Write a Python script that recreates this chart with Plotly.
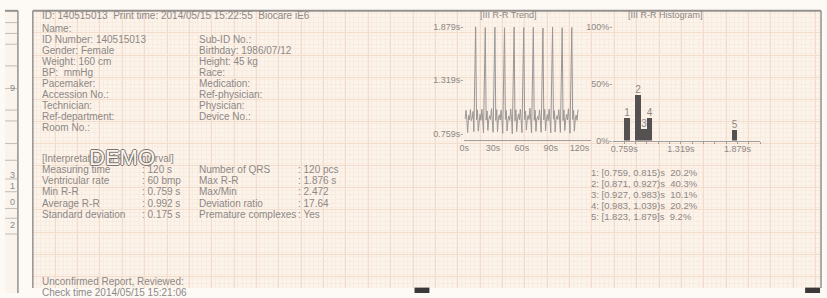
import numpy as np
import plotly.graph_objects as go

W, H = 827, 298

# ---------------- data ----------------
rr_intervals = [
    0.912, 1.004, 0.898, 0.772, 0.951, 0.903, 1.012, 0.896, 0.921, 0.992, 0.781, 1.876,
    0.905, 1.008, 0.786, 0.912, 0.962, 0.899, 1.015, 0.893, 0.768, 1.869,
    0.901, 0.997, 0.793, 0.908, 0.948, 0.906, 1.021, 0.889, 0.774, 1.872,
    0.897, 1.011, 0.779, 0.915, 0.957, 0.902, 1.006, 0.894, 0.762, 1.866,
    0.909, 1.002, 0.788, 0.903, 0.944, 0.898, 1.018, 0.907, 0.759, 1.874,
    0.894, 1.009, 0.781, 0.911, 0.966, 0.904, 1.013, 0.892, 0.771, 1.868,
    0.906, 0.995, 0.796, 0.899, 0.952, 0.908, 1.024, 0.888, 0.766, 1.871,
    0.899, 1.006, 0.784, 0.914, 0.941, 0.901, 1.009, 0.897, 0.775, 1.863,
    0.903, 1.013, 0.789, 0.906, 0.959, 0.895, 1.016, 0.891, 0.769, 1.875,
    0.911, 0.999, 0.777, 0.909, 0.947, 0.907, 1.011, 0.902, 0.773, 1.867,
    0.896, 1.007, 0.792, 0.901, 0.963, 0.903, 1.019, 0.895, 0.764, 1.870,
    0.908, 1.003, 0.785, 0.913, 0.954, 0.899, 1.010,
]
trend_tickvals = [0, 30, 60, 90, 120]
trend_ticktext = ["0s", "30s", "60s", "90s", "120s"]
rr_tickvals = [0.759, 1.319, 1.879]
rr_ticktext = ["0.759s-", "1.319s-", "1.879s-"]

hist_bin_lo = [0.759, 0.871, 0.927, 0.983, 1.823]
hist_bin_hi = [0.815, 0.927, 0.983, 1.039, 1.879]
hist_pct = [20.2, 40.3, 10.1, 20.2, 9.2]
hist_labels = ["1", "2", "3", "4", "5"]
hist_close = [")", ")", ")", ")", "]"]
pct_tickvals = [0, 50, 100]
pct_ticktext = ["0%-", "50%-", "100%-"]

header_text = "ID: 140515013  Print time: 2014/05/15 15:22:55  Biocare iE6"
info_col1 = ["Name:", "ID Number: 140515013", "Gender: Female", "Weight: 160 cm",
             "BP:  mmHg", "Pacemaker:", "Accession No.:", "Technician:",
             "Ref-department:", "Room No.:"]
info_col2 = ["", "Sub-ID No.:", "Birthday: 1986/07/12", "Height: 45 kg", "Race:",
             "Medication:", "Ref-physician:", "Physician:", "Device No.:"]
interp_title = "[Interpretation of R-R Interval]"
interp_lab1 = ["Measuring time", "Ventricular rate", "Min R-R", "Average R-R", "Standard deviation"]
interp_val1 = [": 120 s", ": 60 bmp", ": 0.759 s", ": 0.992 s", ": 0.175 s"]
interp_lab2 = ["Number of QRS", "Max R-R", "Max/Min", "Deviation ratio", "Premature complexes"]
interp_val2 = [": 120 pcs", ": 1.876 s", ": 2.472", ": 17.64", ": Yes"]
footer_lines = ["Unconfirmed Report, Reviewed:", "Check time 2014/05/15 15:21:06"]
left_page_digits = [("9", 90), ("3", 178), ("1", 189), ("0", 205), ("2", 229)]

# ---------------- helpers ----------------
def px(x):
    return x / W

def py(y):
    return 1 - y / H

TXT = "#8c8885"
FONT = "Liberation Sans, Arial, sans-serif"
PAPER = "#fcf3ea"

annotations = []

def add_text(x, y, text, size=10, anchor="left", color=TXT):
    annotations.append(dict(x=px(x), y=py(y), xref="paper", yref="paper", text=text,
                            showarrow=False, xanchor=anchor, yanchor="middle",
                            font=dict(family=FONT, size=size, color=color)))

# ---------------- traces ----------------
times = np.cumsum(rr_intervals)
fig = go.Figure()

fig.add_trace(go.Scatter(x=[], y=[], xaxis="x", yaxis="y", showlegend=False, hoverinfo="skip"))

fig.add_trace(go.Scatter(x=times, y=rr_intervals, xaxis="x2", yaxis="y2", mode="lines",
                         line=dict(color="#9a9695", width=1), showlegend=False))

centers = [(lo + hi) / 2 for lo, hi in zip(hist_bin_lo, hist_bin_hi)]
widths = [hi - lo for lo, hi in zip(hist_bin_lo, hist_bin_hi)]
fig.add_trace(go.Bar(x=centers, y=hist_pct, width=widths, xaxis="x3", yaxis="y3",
                     marker=dict(color="#545150", line=dict(width=0)),
                     text=hist_labels, textposition="outside", constraintext="none",
                     cliponaxis=False, textfont=dict(family=FONT, size=10, color=TXT),
                     showlegend=False))

# ---------------- text ----------------
add_text(35, 16, header_text)
for i, t in enumerate(info_col1):
    add_text(35, 29 + i * 11.2, t)
for i, t in enumerate(info_col2):
    if t:
        add_text(193, 29 + i * 11.2, t)
add_text(35, 161, interp_title)
for i in range(5):
    yy = 172 + i * 11.5
    add_text(35, yy, interp_lab1[i])
    add_text(136, yy, interp_val1[i])
    add_text(193, yy, interp_lab2[i])
    add_text(293, yy, interp_val2[i])
add_text(35, 286, footer_lines[0])
add_text(35, 297.5, footer_lines[1])

# DEMO watermark (outlined)
annotations.append(dict(x=px(118), y=py(160), xref="paper", yref="paper", text="DEMO",
                        showarrow=False, xanchor="center", yanchor="middle",
                        font=dict(family=FONT, size=22, color=PAPER,
                                  shadow="1px 0 0 #777472, -1px 0 0 #777472, 0 1px 0 #777472, 0 -1px 0 #777472")))

add_text(507, 15, "[III R-R Trend]", size=9, anchor="center")
add_text(665, 15, "[III R-R Histogram]", size=9, anchor="center")

for i in range(5):
    line = f"{hist_labels[i]}: [{hist_bin_lo[i]:.3f}, {hist_bin_hi[i]:.3f}{hist_close[i]}s  {hist_pct[i]}%"
    add_text(588, 175 + i * 11.2, line, size=9.5)

for d, yy in left_page_digits:
    add_text(12, yy, d, size=9, anchor="right")

# ---------------- shapes ----------------
shapes = []
shapes.append(dict(type="rect", xref="paper", yref="paper", x0=px(28), x1=px(821), y0=py(293), y1=py(11),
                   fillcolor=PAPER, line=dict(width=0), layer="below"))
shapes.append(dict(type="rect", xref="paper", yref="paper", x0=px(0), x1=px(13), y0=py(298), y1=py(11),
                   fillcolor="#fbf4ec", line=dict(width=0), layer="below"))
BORDER = "#95918e"
def hline(x0, x1, y, w=1, c=BORDER):
    shapes.append(dict(type="line", xref="paper", yref="paper", x0=px(x0), x1=px(x1), y0=py(y), y1=py(y),
                       line=dict(color=c, width=w)))
def vline(x, y0, y1, w=1, c=BORDER):
    shapes.append(dict(type="line", xref="paper", yref="paper", x0=px(x), x1=px(x), y0=py(y0), y1=py(y1),
                       line=dict(color=c, width=w)))
hline(28, 821, 11, 2)
vline(28, 11, 293, 1.5)
vline(821, 11, 293, 1.5)
vline(13, 11, 298, 1.5)
hline(0, 13, 11, 2)
for yy in [23, 34, 45, 67, 90, 112, 123, 146, 163, 182, 195, 212, 222, 238]:
    hline(0, 13, yy, 0.8, "#b2aeab")
for x0 in [412, 805]:
    shapes.append(dict(type="rect", xref="paper", yref="paper", x0=px(x0), x1=px(x0 + 15),
                       y0=py(298), y1=py(292.5), fillcolor="#3a3838", line=dict(width=0)))

# ---------------- layout ----------------
def dom_x(a, b):
    return [a / W, b / W]

def dom_y(top, bottom):
    return [1 - bottom / H, 1 - top / H]

MAJ = "#f3dccb"
MIN = "#f8ebe0"
fig.update_layout(
    width=W, height=H, margin=dict(l=0, r=0, t=0, b=0),
    paper_bgcolor="#fdfaf6", plot_bgcolor="rgba(0,0,0,0)",
    font=dict(family=FONT, color=TXT),
    showlegend=False, bargap=0,
    annotations=annotations, shapes=shapes,
    xaxis=dict(domain=dom_x(28, 821), range=[28, 821], dtick=22.5, tick0=28,
               showgrid=True, gridcolor=MAJ, gridwidth=1,
               minor=dict(dtick=4.5, showgrid=True, gridcolor=MIN, gridwidth=1),
               showticklabels=False, zeroline=False, showline=False, ticks="", fixedrange=True),
    yaxis=dict(domain=dom_y(11, 293), range=[293, 11], dtick=22.5, tick0=11,
               showgrid=True, gridcolor=MAJ, gridwidth=1,
               minor=dict(dtick=4.5, showgrid=True, gridcolor=MIN, gridwidth=1),
               showticklabels=False, zeroline=False, showline=False, ticks="", fixedrange=True),
    xaxis2=dict(domain=dom_x(462, 590), range=[0, 132.4], anchor="y2",
                tickvals=trend_tickvals, ticktext=trend_ticktext,
                tickfont=dict(size=9, color=TXT), showgrid=False, zeroline=False,
                showline=True, linecolor="#a29e9b", linewidth=1, ticks=""),
    yaxis2=dict(domain=dom_y(20, 142), range=[0.6973, 1.951], anchor="x2",
                tickvals=rr_tickvals, ticktext=rr_ticktext,
                tickfont=dict(size=9, color=TXT), showgrid=False, zeroline=False,
                showline=False, ticks=""),
    xaxis3=dict(domain=dom_x(612, 760), range=[0.651, 2.105], anchor="y3",
                tickvals=rr_tickvals, ticktext=["0.759s", "1.319s", "1.879s"],
                tickfont=dict(size=9, color=TXT), showgrid=False, zeroline=False,
                showline=True, linecolor="#a29e9b", linewidth=1, ticks="",
                minor=dict(ticks="outside", ticklen=2, dtick=0.112, tick0=0.759, tickcolor="#a29e9b")),
    yaxis3=dict(domain=dom_y(20, 143), range=[0, 106.03], anchor="x3",
                tickvals=pct_tickvals, ticktext=pct_ticktext,
                tickfont=dict(size=9, color=TXT), showgrid=False, zeroline=False,
                showline=False, ticks=""),
)

fig.write_html("out.html",
               config={"displayModeBar": False},
               post_script="document.body.style.margin='0';document.body.style.padding='0';"
                           "document.body.style.overflow='hidden';")
